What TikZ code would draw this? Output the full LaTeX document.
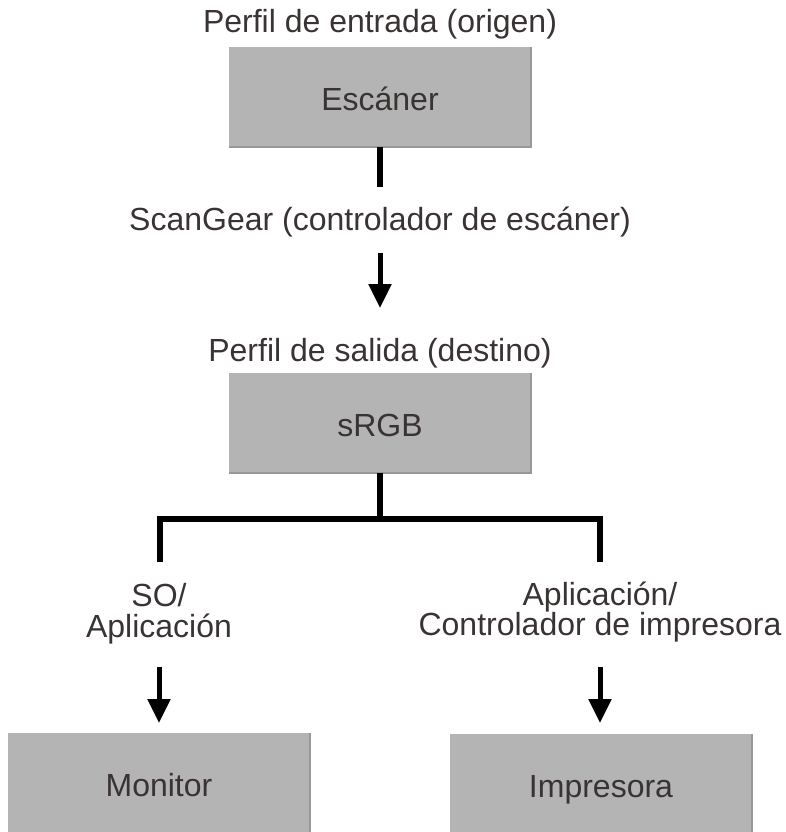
\documentclass[tikz,border=0pt]{standalone}
\usepackage{fontspec}
\setmainfont{Liberation Sans}
\usetikzlibrary{arrows.meta}
\definecolor{boxgray}{HTML}{B4B4B4}
\definecolor{edgegray}{HTML}{989898}
\definecolor{txt}{HTML}{3A3334}
\begin{document}
\begin{tikzpicture}[x=1pt,y=-1pt,
  lbl/.style={font=\fontsize{32}{31}\selectfont, text=txt, inner sep=0pt, anchor=base},
  gbox/.style={fill=boxgray, minimum width=302pt, minimum height=100pt, inner sep=0pt,
               text height=27pt, text depth=0pt, font=\fontsize{32}{31}\selectfont, text=txt},
  boxedge/.style={edgegray, line width=1.5pt},
  conn/.style={line width=5.5pt, black, line join=miter},
  arr/.style={line width=5pt, black, -{Triangle[width=22pt,length=24pt]}}]
\useasboundingbox (0,0) rectangle (785,832);

% boxes
\node[gbox] (esc)  at (380,97)  {Escáner};
\node[gbox] (srgb) at (380,423) {sRGB};
\node[gbox] (mon)  at (159,783) {Monitor};
\node[gbox] (imp)  at (601,784) {Impresora};
\foreach \n in {esc,srgb,mon,imp}
  \draw[boxedge] (\n.south west) -- (\n.south east) -- (\n.north east);

% labels
\node[lbl] (t1)  at (380,33)  {Perfil de entrada (origen)};
\node[lbl] (t2)  at (380,230) {ScanGear (controlador de escáner)};
\node[lbl] (t3)  at (380,361) {Perfil de salida (destino)};
\node[lbl] (so1) at (159,606) {SO/};
\node[lbl] (so2) at (159,637) {Aplicación};
\node[lbl] (ap1) at (600,605) {Aplicación/};
\node[lbl] (ap2) at (600,635) {Controlador de impresora};

% connector coordinates
\coordinate (e1) at (380,187);
\coordinate (a1s) at (380,253);
\coordinate (a1e) at (380,308);
\coordinate (j)  at (380,519);
\coordinate (lt) at (160,519);
\coordinate (lb) at (160,562);
\coordinate (rt) at (600,519);
\coordinate (rb) at (600,562);
\coordinate (a2s) at (159,667);
\coordinate (a2e) at (159,723);
\coordinate (a3s) at (600,667);
\coordinate (a3e) at (600,723);

% connectors
\draw[conn] (esc.south) -- (e1);
\draw[arr] (a1s) -- (a1e);
\draw[conn] (srgb.south) -- (j);
\draw[conn] (lb) -- (lt) -- (rt) -- (rb);
\draw[arr] (a2s) -- (a2e);
\draw[arr] (a3s) -- (a3e);
\end{tikzpicture}
\end{document}
